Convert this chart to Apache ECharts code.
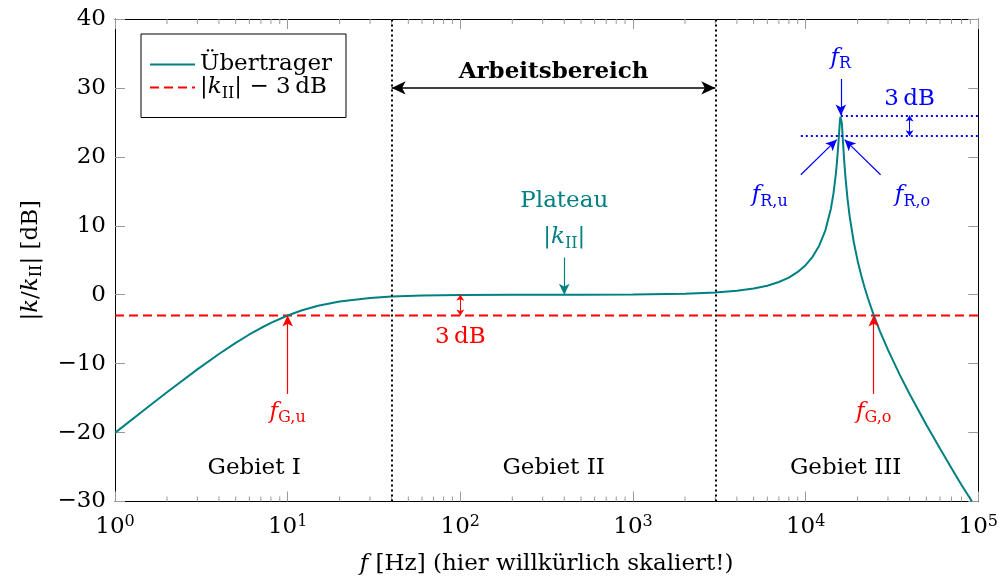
<!DOCTYPE html>
<html><head><meta charset="utf-8">
<script src="https://cdn.jsdelivr.net/npm/echarts@6/dist/echarts.min.js"></script>
<style>html,body{margin:0;padding:0;background:#fff}#c{width:1001px;height:581px}</style>
</head><body><div id="c"></div>
<script>
// ---- data ----
const freqHz = [1,1.5,2,3,4,5,6,7,8,10,12,15,20,30,40,60,100,200,500,1000,2000,3000,4000,5000,6000,7000,8000,9000,10000,11000,12000,13000,14000,14500,15000,15200,15500,15600,15800,15900,16000,16100,16200,16300,16500,16700,17000,17500,18000,19000,20000,21000,22000,23000,24800,27000,30000,35000,40000,50000,60000,70000,80000,92000];
const gainDb = [-20.04,-16.58,-14.15,-10.83,-8.60,-6.99,-5.77,-4.83,-4.09,-3.01,-2.29,-1.60,-0.97,-0.46,-0.26,-0.12,-0.04,-0.01,0.00,0.03,0.14,0.31,0.56,0.89,1.31,1.85,2.49,3.30,4.29,5.54,7.15,9.31,12.45,14.69,17.73,19.30,22.13,23.17,25.15,25.81,26.02,25.71,24.95,23.95,21.75,19.70,17.11,13.82,11.32,7.65,4.94,2.79,0.98,-0.58,-2.95,-5.34,-8.01,-11.56,-14.40,-18.86,-22.32,-25.17,-27.60,-30.00];
const thresholdHz = [1, 100000];
const thresholdDb = [-3, -3];
const regionBoundsHz = [40, 3000];
const minorTickHz = [2,3,4,5,6,7,8,9,20,30,40,50,60,70,80,90,200,300,400,500,600,700,800,900,2000,3000,4000,5000,6000,7000,8000,9000,20000,30000,40000,50000,60000,70000,80000,90000];
const resonanceHz = 16000, resonancePeakDb = 26, resonanceMinus3Db = 23;
const fGu = 10, fGo = 24800;

const TEAL = '#008080', RED = '#ff0000', BLUE = '#0000ff', BLACK = '#000000';
const FF = '"DejaVu Serif", "Liberation Serif", serif';
const FS = 23;
function richSet(color){
  return {
    t:{fontFamily:FF,fontSize:FS,color:color,lineHeight:28},
    i:{fontFamily:FF,fontSize:FS,fontStyle:'italic',color:color,lineHeight:28},
    b:{fontFamily:FF,fontSize:FS,fontWeight:'bold',color:color,lineHeight:28},
    sub:{fontFamily:FF,fontSize:16,color:color,lineHeight:16,verticalAlign:'bottom'},
    sup:{fontFamily:FF,fontSize:16,color:color,lineHeight:16,verticalAlign:'top'}
  };
}

// annotation texts (data coordinates)
const labelItems = [
  {x:resonanceHz, y:34.4, text:'{i|f}{sub|R}', color:BLUE},
  {x:40000, y:28.4, text:'{t|3\u2009dB}', color:BLUE},
  {x:6200, y:14.4, text:'{i|f}{sub|R,u}', color:BLUE},
  {x:41600, y:14.4, text:'{i|f}{sub|R,o}', color:BLUE},
  {x:347, y:32.3, text:'{b|Arbeitsbereich}', color:BLACK},
  {x:400, y:13.6, text:'{t|Plateau}', color:TEAL},
  {x:400, y:8.3, text:'{t||}{i|k}{sub|II}{t||}', color:TEAL},
  {x:100, y:-6.1, text:'{t|3\u2009dB}', color:RED},
  {x:fGu, y:-17.0, text:'{i|f}{sub|G,u}', color:RED},
  {x:fGo, y:-17.0, text:'{i|f}{sub|G,o}', color:RED},
  {x:6.4, y:-25.1, text:'{t|Gebiet I}', color:BLACK},
  {x:347, y:-25.1, text:'{t|Gebiet II}', color:BLACK},
  {x:17060, y:-25.1, text:'{t|Gebiet III}', color:BLACK}
];

// arrows (data coordinates)
const arrows = [
  {from:[regionBoundsHz[0],30], to:[regionBoundsHz[1],30], color:BLACK, heads:['arrow','arrow'], size:[10,14], width:1.6},
  {from:[400,5.4], to:[400,0], color:TEAL, heads:['none','arrow'], size:[8,11], width:1.2},
  {from:[100,0], to:[100,-3], color:RED, heads:['arrow','arrow'], size:[6,6], width:1},
  {from:[fGu,-14.4], to:[fGu,-3], color:RED, heads:['none','arrow'], size:[8,11], width:1.2},
  {from:[fGo,-14.4], to:[fGo,-3], color:RED, heads:['none','arrow'], size:[8,11], width:1.2},
  {from:[resonanceHz,31.3], to:[resonanceHz,resonancePeakDb], color:BLUE, heads:['none','arrow'], size:[8,11], width:1.2},
  {from:[9380,17.4], to:[15140,22.5], color:BLUE, heads:['none','arrow'], size:[8,11], width:1.2},
  {from:[27170,17.4], to:[16830,22.5], color:BLUE, heads:['none','arrow'], size:[8,11], width:1.2},
  {from:[40000,resonancePeakDb], to:[40000,resonanceMinus3Db], color:BLUE, heads:['arrow','arrow'], size:[6,6], width:1}
];
const dottedLines = [
  {from:[resonanceHz,resonancePeakDb], to:[100000,resonancePeakDb], color:BLUE},
  {from:[9380,resonanceMinus3Db], to:[100000,resonanceMinus3Db], color:BLUE}
];

const chart = echarts.init(document.getElementById('c'), null, {renderer:'canvas'});

const markLineData = [];
regionBoundsHz.forEach(v => markLineData.push({xAxis:v, symbol:'none', lineStyle:{color:BLACK, width:2, type:[2,3]}}));
dottedLines.forEach(d => markLineData.push([
  {coord:d.from, symbol:'none', lineStyle:{color:d.color, width:2, type:[2,3]}},
  {coord:d.to, symbol:'none'}
]));
arrows.forEach(a => markLineData.push([
  {coord:a.from, symbol:a.heads[0], symbolSize:a.size, lineStyle:{color:a.color, width:a.width, type:'solid'}, itemStyle:{color:a.color}},
  {coord:a.to, symbol:a.heads[1], symbolSize:a.size, itemStyle:{color:a.color}}
]));

const labelColors = [BLACK, BLUE, RED, TEAL];
const labelSeries = labelColors.map(c => ({
  type:'scatter', name:'lbl'+c, silent:true, symbol:'circle', symbolSize:0.1,
  itemStyle:{color:'rgba(0,0,0,0)'}, z:10,
  label:{show:true, position:'inside', align:'center', verticalAlign:'middle', textBorderWidth:0, opacity:1,
         formatter:p => p.name, rich:richSet(c), color:c},
  data: labelItems.filter(l => l.color === c).map(l => ({name:l.text, value:[l.x,l.y]}))
}));

const axisCommon = {
  axisLine:{show:true, onZero:false, lineStyle:{color:BLACK, width:1}},
  axisTick:{show:true, inside:true, length:10, lineStyle:{color:'#999', width:1}},
  splitLine:{show:false}
};

const option = {
  animation:false,
  grid:{left:115, right:20, top:19, bottom:78, containLabel:false},
  legend:{
    data:['Übertrager','k3'], orient:'vertical', left:141, top:34,
    backgroundColor:'#fff', borderColor:BLACK, borderWidth:1,
    padding:[19,14,16,8], itemGap:0, itemWidth:45, itemHeight:28, itemTextGap:6,
    itemStyle:{color:'rgba(0,0,0,0)', borderWidth:0, opacity:0},
    textStyle:{fontFamily:FF, fontSize:FS, color:BLACK, rich:richSet(BLACK)},
    formatter: n => n === 'Übertrager' ? '{t|Übertrager}' : '{t||}{i|k}{sub|II}{t|| \u2212 3\u2009dB}',
    selectedMode:false
  },
  xAxis:[
    Object.assign({}, axisCommon, {
      type:'log', logBase:10, min:1, max:100000, position:'bottom',
      name:'{i|f}{t| [Hz] (hier willkürlich skaliert!)}', nameLocation:'middle', nameGap:49,
      nameTextStyle:{rich:richSet(BLACK)},
      axisLabel:{margin:12, formatter:v => '{t|10}{sup|' + Math.round(Math.log10(v)) + '}', rich:richSet(BLACK)}
    }),
    Object.assign({}, axisCommon, {
      type:'log', logBase:10, min:1, max:100000, position:'top', axisLabel:{show:false}
    })
  ],
  yAxis:[
    Object.assign({}, axisCommon, {
      type:'value', min:-30, max:40, interval:10, position:'left',
      name:'{t||}{i|k}{t|/}{i|k}{sub|II}{t|| [dB]}', nameLocation:'middle', nameGap:70,
      nameTextStyle:{rich:richSet(BLACK)},
      axisLabel:{margin:9, fontFamily:FF, fontSize:FS, color:BLACK, formatter:v => v < 0 ? '\u2212' + (-v) : String(v)}
    }),
    Object.assign({}, axisCommon, {
      type:'value', min:-30, max:40, interval:10, position:'right', axisLabel:{show:false}
    })
  ],
  series:[
    {
      type:'custom', name:'minorTicks', silent:true, xAxisIndex:0, yAxisIndex:0,
      data: minorTickHz.map(v => [v, 0]),
      renderItem:(params, api) => {
        const x = api.value(0);
        const pb = api.coord([x, -30]);
        const pt = api.coord([x, 40]);
        return {type:'group', children:[
          {type:'line', shape:{x1:pb[0], y1:pb[1], x2:pb[0], y2:pb[1]-5}, style:{stroke:'#999', lineWidth:1}},
          {type:'line', shape:{x1:pt[0], y1:pt[1], x2:pt[0], y2:pt[1]+5}, style:{stroke:'#999', lineWidth:1}}
        ]};
      }
    },
    {
      type:'line', name:'k3', symbol:'none', silent:true, z:3,
      lineStyle:{color:RED, width:2, type:[9,5]}, itemStyle:{color:RED},
      data: thresholdHz.map((f,i) => [f, thresholdDb[i]])
    },
    {
      type:'line', name:'Übertrager', symbol:'none', silent:true, z:4,
      lineStyle:{color:TEAL, width:2}, itemStyle:{color:TEAL},
      data: freqHz.map((f,i) => [f, gainDb[i]]),
      markLine:{silent:true, animation:false, symbol:['none','none'], label:{show:false}, emphasis:{disabled:true}, data:markLineData}
    }
  ].concat(labelSeries)
};
chart.setOption(option);
</script></body></html>
